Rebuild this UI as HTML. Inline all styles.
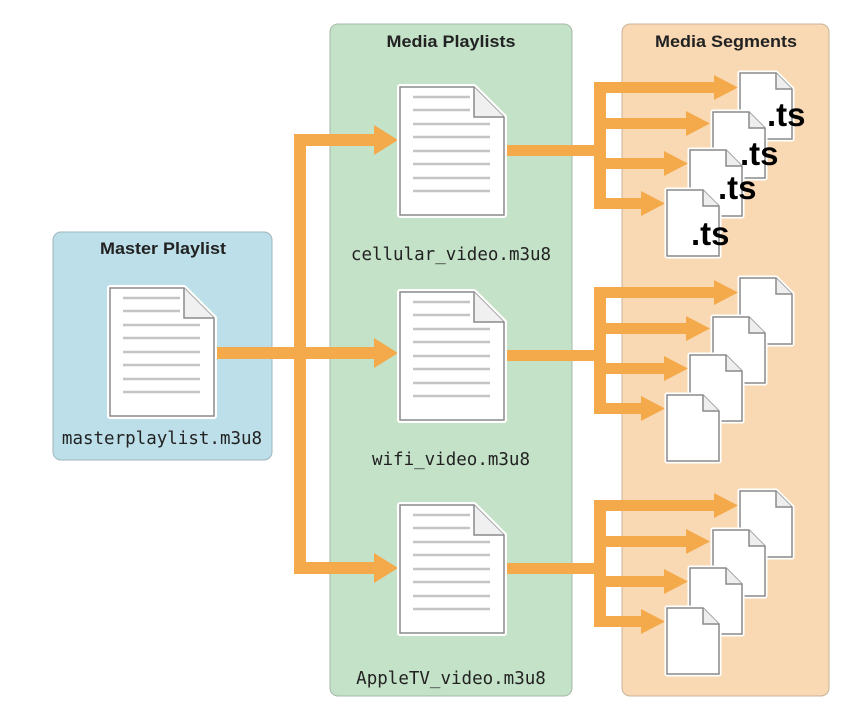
<!DOCTYPE html>
<html><head><style>body{margin:0;background:#fff}svg{display:block}</style></head><body>
<svg width="852" height="707" viewBox="0 0 852 707" xmlns="http://www.w3.org/2000/svg">
<defs>
<g id="doc">
<path d="M0,0 H74 L104,30 V128 H0 Z" fill="#fff" stroke="#fff" stroke-width="6" stroke-linejoin="round"/>
<path d="M0,0 H74 L104,30 V128 H0 Z" fill="#fff" stroke="#8a8a8a" stroke-width="1.5"/>
<path d="M74,0 V30 H104" fill="#f0f0f0" stroke="#8a8a8a" stroke-width="1.5"/>
<g stroke="#c4c4c4" stroke-width="2.5">
<line x1="13" y1="10" x2="70" y2="10"/><line x1="13" y1="23" x2="70" y2="23"/>
<line x1="13" y1="37" x2="90" y2="37"/><line x1="13" y1="50" x2="90" y2="50"/>
<line x1="13" y1="64" x2="90" y2="64"/><line x1="13" y1="77" x2="90" y2="77"/>
<line x1="13" y1="91" x2="90" y2="91"/><line x1="13" y1="104" x2="90" y2="104"/>
</g>
</g>
<g id="seg">
<path d="M0,0 H36 L52,16 V66 H0 Z" fill="#fff" stroke="#fff" stroke-width="5" stroke-linejoin="round"/>
<path d="M0,0 H36 L52,16 V66 H0 Z" fill="#fff" stroke="#8a8a8a" stroke-width="1.5"/>
<path d="M36,0 V16 H52" fill="#eee" stroke="#8a8a8a" stroke-width="1.5"/>
</g>
<g id="fan">
<rect x="505" y="145" width="100" height="11" fill="#f4a94a"/>
<rect x="594" y="82" width="12" height="127" fill="#f4a94a"/>
<rect x="594" y="82" width="120" height="11" fill="#f4a94a"/><path d="M714,75 L738,87.5 L714,100Z" fill="#f4a94a"/>
<rect x="594" y="118" width="92" height="11" fill="#f4a94a"/><path d="M686,111 L710,123.5 L686,136Z" fill="#f4a94a"/>
<rect x="594" y="158" width="70" height="11" fill="#f4a94a"/><path d="M664,151 L688,163.5 L664,176Z" fill="#f4a94a"/>
<rect x="594" y="198" width="47" height="11" fill="#f4a94a"/><path d="M641,191 L665,203.5 L641,216Z" fill="#f4a94a"/>
<use href="#seg" x="740" y="73"/><use href="#seg" x="713" y="112"/><use href="#seg" x="690" y="150"/><use href="#seg" x="667" y="190"/>
<use href="#doc" x="400" y="87"/>
</g>
</defs>
<rect x="53" y="232" width="219" height="228" rx="8" fill="#bcdfe9" stroke="#9fb5bc"/>
<rect x="330" y="24" width="242" height="672" rx="8" fill="#c4e2c8" stroke="#a5b8a7"/>
<rect x="622" y="24" width="207" height="672" rx="8" fill="#f9d9b4" stroke="#c8b39a"/>
<g font-family="Liberation Sans, sans-serif" font-weight="bold" font-size="17" text-anchor="middle" fill="#222">
<text x="163" y="254" textLength="126" lengthAdjust="spacingAndGlyphs">Master Playlist</text>
<text x="451" y="47" textLength="129" lengthAdjust="spacingAndGlyphs">Media Playlists</text>
<text x="726" y="47" textLength="142" lengthAdjust="spacingAndGlyphs">Media Segments</text>
</g>
<g font-family="DejaVu Sans Mono, Liberation Mono, monospace" font-size="17.5" text-anchor="middle" fill="#222">
<text x="162" y="444">masterplaylist.m3u8</text>
<text x="451" y="260">cellular_video.m3u8</text>
<text x="451" y="465">wifi_video.m3u8</text>
<text x="451" y="684">AppleTV_video.m3u8</text>
</g>
<rect x="214" y="347" width="160" height="12" fill="#f4a94a"/>
<rect x="294" y="134" width="12" height="440" fill="#f4a94a"/>
<rect x="294" y="134" width="80" height="12" fill="#f4a94a"/><path d="M374,125 L398,140 L374,155Z" fill="#f4a94a"/>
<path d="M374,338 L398,353 L374,368Z" fill="#f4a94a"/>
<rect x="294" y="562" width="80" height="12" fill="#f4a94a"/><path d="M374,553 L398,568 L374,583Z" fill="#f4a94a"/>
<use href="#doc" x="110" y="288"/>
<use href="#fan"/>
<use href="#fan" y="205"/>
<use href="#fan" y="418"/>
<g font-family="Liberation Sans, sans-serif" font-weight="bold" font-size="33" fill="#000">
<text x="767" y="126">.ts</text>
<text x="740" y="165">.ts</text>
<text x="718" y="199">.ts</text>
<text x="691" y="245">.ts</text>
</g>
</svg>
</body></html>
